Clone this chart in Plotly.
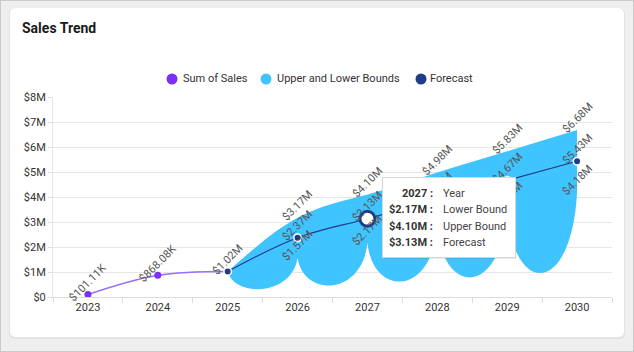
import numpy as np
import plotly.graph_objects as go

# ---------------- data ----------------
years = ["2023", "2024", "2025", "2026", "2027", "2028", "2029", "2030"]
sales_years = ["2023", "2024", "2025"]
sales = [101110, 868080, 1020000]
forecast_years = ["2025", "2026", "2027", "2028", "2029", "2030"]
forecast = [1020000, 2370000, 3130000, 3900000, 4670000, 5430000]
upper = [1020000, 3170000, 4100000, 4980000, 5830000, 6680000]
lower = [1020000, 1570000, 2170000, 2820000, 3510000, 4180000]
y_ticks = [0, 1e6, 2e6, 3e6, 4e6, 5e6, 6e6, 7e6, 8e6]
y_tick_labels = ["$0", "$1M", "$2M", "$3M", "$4M", "$5M", "$6M", "$7M", "$8M"]
series_names = ["Sum of Sales", "Upper and Lower Bounds", "Forecast"]
hover_year = "2027"
hover_fields = ["Year", "Lower Bound", "Upper Bound", "Forecast"]

# ---------------- style ----------------
W, H = 634, 352
ML, MR, MT, MB = 53, 22, 97, 55
PW, PH = W - ML - MR, H - MT - MB
FONT = "Roboto"
C_SALES_LINE = "#9a6cff"
C_SALES = "#7b2ff7"
C_BAND = "#40c4ff"
C_FC = "#1f3c88"
C_LABEL = "#555555"
C_TEXT = "#333333"
LEGEND_SYMBOL_X = [172, 266, 421]
LEGEND_TEXT_X = [181, 275, 428]
LEGEND_Y = 79


def money(v):
    if v >= 1e6:
        return f"${v / 1e6:.2f}M"
    return f"${v / 1e3:.2f}K"


def cat(y):
    # category axes take serial index positions for shapes / annotations
    return years.index(y)


def px2paper(x, y):
    return (x - ML) / PW, (MT + PH - y) / PH


def rrect_path(x0, y0, x1, y1, r):
    def p(x, y):
        a, b = px2paper(x, y)
        return f"{a:.5f},{b:.5f}"
    return (f"M{p(x0 + r, y0)} L{p(x1 - r, y0)} Q{p(x1, y0)} {p(x1, y0 + r)} "
            f"L{p(x1, y1 - r)} Q{p(x1, y1)} {p(x1 - r, y1)} L{p(x0 + r, y1)} "
            f"Q{p(x0, y1)} {p(x0, y1 - r)} L{p(x0, y0 + r)} Q{p(x0, y0)} {p(x0 + r, y0)} Z")


# ---------------- band path (spline range area) ----------------
bx = [cat(y) for y in forecast_years]
uy = np.array(upper, dtype=float)
n = len(uy) - 1
A = np.zeros((n + 1, n + 1))
rhs = np.zeros(n + 1)
A[0, 0] = 1
A[n, n] = 1
for i in range(1, n):
    A[i, i - 1], A[i, i], A[i, i + 1] = 1, 4, 1
    rhs[i] = 6 * (uy[i + 1] - 2 * uy[i] + uy[i - 1])
M2 = np.linalg.solve(A, rhs)
deriv = np.zeros(n + 1)
for i in range(n):
    deriv[i] = (uy[i + 1] - uy[i]) - (2 * M2[i] + M2[i + 1]) / 6
deriv[n] = (uy[n] - uy[n - 1]) + (M2[n - 1] + 2 * M2[n]) / 6

path = f"M{bx[0]},{uy[0]:.0f}"
for i in range(n):
    path += (f" C{bx[i] + 1/3:.4f},{uy[i] + deriv[i] / 3:.0f}"
             f" {bx[i + 1] - 1/3:.4f},{uy[i + 1] - deriv[i + 1] / 3:.0f}"
             f" {bx[i + 1]},{uy[i + 1]:.0f}")
path += f" L{bx[n]},{lower[n]:.0f}"
c = 0.08
for i in range(n, 0, -1):
    path += (f" C{bx[i] - c:.4f},0 {bx[i - 1] + c:.4f},0"
             f" {bx[i - 1]},{lower[i - 1]:.0f}")
path += " Z"

fig = go.Figure()

# sales
fig.add_trace(go.Scatter(
    x=sales_years, y=sales, mode="lines+markers", name=series_names[0],
    line=dict(color=C_SALES_LINE, width=1.5, shape="spline"),
    marker=dict(color=C_SALES, size=7, opacity=1), cliponaxis=False,
    hoverinfo="skip"))

# forecast
hi = forecast_years.index(hover_year)
sizes = [7.5] * len(forecast)
sizes[hi] = 15
mcol = [C_FC] * len(forecast)
mcol[hi] = "#ffffff"
lcol = ["#ffffff"] * len(forecast)
lcol[hi] = C_FC
lw = [1.5] * len(forecast)
lw[hi] = 3
fig.add_trace(go.Scatter(
    x=forecast_years, y=forecast, mode="lines+markers", name=series_names[2],
    line=dict(color=C_FC, width=1.2, shape="spline"),
    marker=dict(color=mcol, size=sizes, opacity=1, line=dict(color=lcol, width=lw)),
    cliponaxis=False, hoverinfo="skip"))

shapes = [
    dict(type="rect", xref="paper", yref="paper",
         x0=px2paper(0, 0)[0], y0=px2paper(0, 0)[1],
         x1=px2paper(W, H)[0], y1=px2paper(W, H)[1],
         line=dict(color="#cbcbcb", width=2), fillcolor="#efefef", layer="below"),
    dict(type="path", xref="paper", yref="paper", path=rrect_path(9, 8, 625, 339, 6),
         line=dict(width=0), fillcolor="#e2e2e2", layer="below"),
    dict(type="path", xref="paper", yref="paper", path=rrect_path(10, 8, 624, 337, 6),
         line=dict(width=0), fillcolor="white", layer="below"),
    dict(type="path", xref="x", yref="y", path=path,
         line=dict(width=0), fillcolor=C_BAND, layer="between"),
]

ann = []

# legend (circle symbols + labels)
for name, col, sx, tx in zip(series_names, [C_SALES, C_BAND, C_FC],
                             LEGEND_SYMBOL_X, LEGEND_TEXT_X):
    px_, py_ = px2paper(sx, LEGEND_Y)
    shapes.append(dict(type="circle", xref="paper", yref="paper",
                       xsizemode="pixel", ysizemode="pixel",
                       xanchor=px_, yanchor=py_, x0=-5.5, x1=5.5, y0=-5.5, y1=5.5,
                       fillcolor=col, line=dict(width=0)))
    tx_, ty_ = px2paper(tx, LEGEND_Y)
    ann.append(dict(x=tx_, y=ty_, xref="paper", yref="paper", text=name,
                    showarrow=False, xanchor="left", yanchor="middle",
                    font=dict(family=FONT, size=11, color=C_TEXT)))

lab_font = dict(family=FONT, size=11, color=C_LABEL)


def add_label(x, v):
    ann.append(dict(x=cat(x), y=v, xref="x", yref="y", text=money(v),
                    showarrow=False, textangle=-45, xanchor="center",
                    yanchor="middle", yshift=12, font=lab_font))


for x, v in zip(sales_years, sales):
    add_label(x, v)
for x, u, l, f in zip(forecast_years[1:], upper[1:], lower[1:], forecast[1:]):
    add_label(x, u)
    add_label(x, l)
    add_label(x, f)

# tooltip (hover state captured in the screenshot)
hx = cat(hover_year)
hy = forecast[hi]
ann.append(dict(x=hx, y=hy, xref="x", yref="y", text=" ", showarrow=False,
                xanchor="left", yanchor="middle", xshift=17, yshift=-1,
                width=130, height=77, bgcolor="rgba(0,0,0,0.08)", borderwidth=0))
ann.append(dict(x=hx, y=hy, xref="x", yref="y", text=" ", showarrow=False,
                xanchor="left", yanchor="middle", xshift=15, yshift=1,
                width=130, height=77, bgcolor="white", bordercolor="#d6d6d6",
                borderwidth=1))
hover_vals = [hover_year, money(lower[hi]), money(upper[hi]), money(forecast[hi])]
for k, (v, f) in enumerate(zip(hover_vals, hover_fields)):
    ys = 25.5 - k * 16.4
    ann.append(dict(x=hx, y=hy, xref="x", yref="y", text=f"<b>{v} :</b>",
                    showarrow=False, xanchor="right", yanchor="middle", xshift=68,
                    yshift=ys, font=dict(family=FONT, size=11, color=C_TEXT)))
    ann.append(dict(x=hx, y=hy, xref="x", yref="y", text=f,
                    showarrow=False, xanchor="left", yanchor="middle", xshift=74,
                    yshift=ys, font=dict(family=FONT, size=11, color="#444")))

fig.update_layout(
    width=W, height=H,
    margin=dict(l=ML, r=MR, t=MT, b=MB, pad=0, autoexpand=False),
    paper_bgcolor="#efefef", plot_bgcolor="rgba(0,0,0,0)",
    font=dict(family=FONT, size=11, color=C_TEXT),
    title=dict(text="<b>Sales Trend</b>", x=22 / W, xanchor="left",
               y=1 - 28 / H, yanchor="middle",
               font=dict(family=FONT, size=14, color="#1a1a1a")),
    showlegend=False,
    shapes=shapes, annotations=ann, hovermode=False,
    xaxis=dict(type="category", categoryorder="array", categoryarray=years,
               range=[-0.5, len(years) - 0.5], tickson="boundaries",
               ticks="outside", ticklen=5, tickcolor="#dcdcdc",
               showline=True, linecolor="#dcdcdc", linewidth=1, showgrid=False,
               tickfont=dict(family=FONT, size=11, color=C_TEXT), fixedrange=True),
    yaxis=dict(range=[0, 8e6], tickvals=y_ticks, ticktext=y_tick_labels,
               ticks="outside", ticklen=4, tickcolor="#dcdcdc",
               showline=True, linecolor="#e6e6e6", gridcolor="#e6e6e6",
               zeroline=False, tickfont=dict(family=FONT, size=11, color=C_TEXT),
               fixedrange=True),
)

fig.write_html("out.html", config={"displayModeBar": False})
